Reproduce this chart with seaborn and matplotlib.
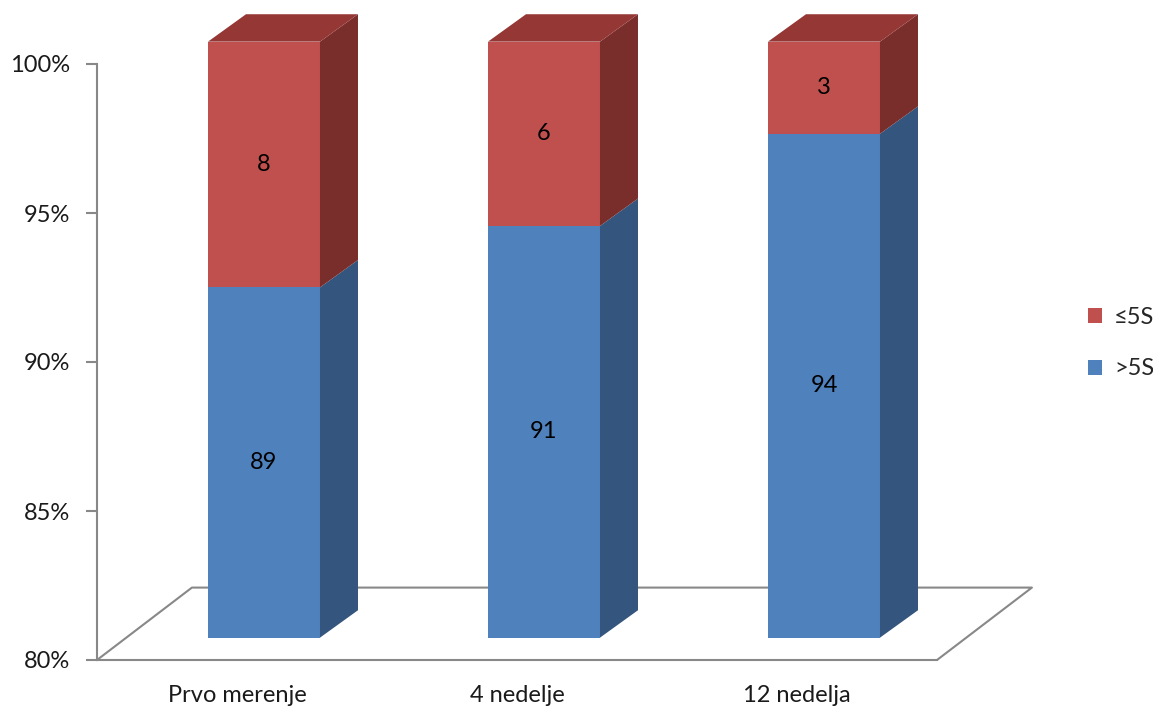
import matplotlib
matplotlib.use("Agg")
import matplotlib.pyplot as plt
from matplotlib.patches import Polygon, Patch
import seaborn as sns
import pandas as pd
import numpy as np

categories = ["Prvo merenje", "4 nedelje", "12 nedelja"]
above_5s = [89, 91, 94]      # >5S
below_5s = [8, 6, 3]         # ≤5S
yticks = [80, 85, 90, 95, 100]
ytick_labels = ["80%", "85%", "90%", "95%", "100%"]
legend_labels = ["≤5S", ">5S"]

blue_front, blue_side = "#4F81BD", "#34557D"
red_front, red_side, red_top = "#C0504D", "#7A2E2C", "#953735"
axis_gray = "#888888"
FS = 17

sns.set_theme(style="white")
plt.rcParams["font.family"] = ["Lato", "DejaVu Sans"]

tot = np.array(above_5s) + np.array(below_5s)
blue_pct = np.array(above_5s) / tot * 100
df = pd.DataFrame({"cat": categories, "total": [100.0] * 3, "blue": blue_pct})

fig = plt.figure(figsize=(11.53, 7.09), dpi=100)
ax = fig.add_axes([97 / 1153, 49 / 709, 840 / 1153, 596 / 709])

W = 0.4
bdx, bdy = 0.0964, 0.75      # front face shift (depth position)
sdx, sdy = 0.1357, 0.92      # bar depth
fdx, fdy = 0.339, 2.43       # floor depth

# floor
ax.plot([-0.5, -0.5 + fdx, 2.5 + fdx, 2.5], [80, 80 + fdy, 80 + fdy, 80],
        color=axis_gray, lw=1.5, clip_on=False, zorder=1)

sns.barplot(data=df, x="cat", y="total", color=red_front, width=W, ax=ax,
            order=categories, saturation=1, zorder=3)
sns.barplot(data=df, x="cat", y="blue", color=blue_front, width=W, ax=ax,
            order=categories, saturation=1, zorder=3)
red_p = ax.patches[:3]
blue_p = ax.patches[3:6]
for i in range(3):
    b = blue_pct[i]
    rp, bp = red_p[i], blue_p[i]
    for p in (rp, bp):
        p.set_x(p.get_x() + bdx)
        p.set_clip_on(False)
        p.set_linewidth(0)
    bp.set_y(80 + bdy); bp.set_height(b - 80)
    rp.set_y(b + bdy); rp.set_height(100 - b)
    x0 = bp.get_x(); x1 = x0 + W
    y0, yb, yt = 80 + bdy, b + bdy, 100 + bdy
    ax.add_patch(Polygon([(x1, y0), (x1 + sdx, y0 + sdy), (x1 + sdx, yb + sdy), (x1, yb)],
                         closed=True, fc=blue_side, ec="none", clip_on=False, zorder=3))
    ax.add_patch(Polygon([(x1, yb), (x1 + sdx, yb + sdy), (x1 + sdx, yt + sdy), (x1, yt)],
                         closed=True, fc=red_side, ec="none", clip_on=False, zorder=3))
    ax.add_patch(Polygon([(x0, yt), (x1, yt), (x1 + sdx, yt + sdy), (x0 + sdx, yt + sdy)],
                         closed=True, fc=red_top, ec="none", clip_on=False, zorder=3))
    xc = x0 + W / 2
    ax.text(xc, (y0 + yb) / 2, str(above_5s[i]), ha="center", va="center", fontsize=FS, color="black", zorder=5)
    ax.text(xc, (yb + yt) / 2, str(below_5s[i]), ha="center", va="center", fontsize=FS, color="black", zorder=5)

ax.set_xlim(-0.5, 2.5)
ax.set_ylim(80, 100)
ax.set_xlabel(""); ax.set_ylabel("")
ax.set_yticks(yticks)
ax.set_yticklabels(ytick_labels, fontsize=FS)
ax.set_xticks([0, 1, 2])
ax.set_xticklabels(categories, fontsize=FS)
ax.set_xticks([-0.5, 0.5, 1.5, 2.5], minor=True)
ax.tick_params(axis="x", which="major", length=0, pad=18, colors="#1a1a1a")
ax.tick_params(axis="x", which="minor", length=7, width=1.5, color=axis_gray, direction="out")
ax.tick_params(axis="y", length=8, width=1.5, pad=11, left=True, colors="#1a1a1a")
ax.tick_params(axis="y", color=axis_gray)
for s in ["top", "right"]:
    ax.spines[s].set_visible(False)
for s in ["left", "bottom"]:
    ax.spines[s].set_color(axis_gray)
    ax.spines[s].set_linewidth(1.5)
    ax.spines[s].set_zorder(2)
ax.patch.set_alpha(0)

handles = [Patch(fc=red_front, ec="none"), Patch(fc=blue_front, ec="none")]
fig.legend(handles, legend_labels, loc="center left", bbox_to_anchor=(1088 / 1153, 1 - 343 / 709),
           frameon=False, fontsize=FS, handlelength=0.6, handleheight=0.6, borderpad=0,
           borderaxespad=0, handletextpad=0.5, labelspacing=1.3)

fig.savefig("out.png", dpi=100, facecolor="white")
